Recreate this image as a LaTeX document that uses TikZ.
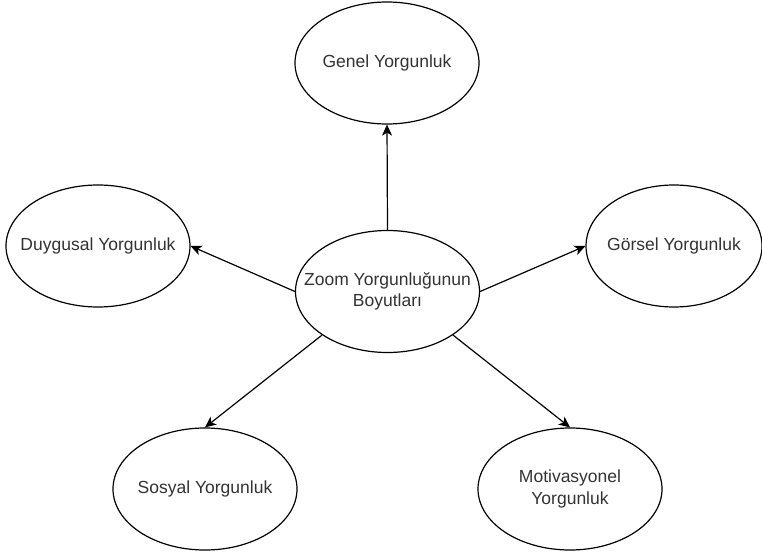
\documentclass[tikz,border=0pt]{standalone}
\usepackage{fontspec}
\setmainfont{Liberation Sans}
\usetikzlibrary{shapes.geometric,arrows.meta}
\begin{document}
\begin{tikzpicture}[x=1pt,y=-1pt,
  txt/.style={text=black!80, align=center, font=\fontsize{17.5}{21.5}\selectfont, inner sep=0pt},
  ell/.style={draw, ellipse, line width=1.2pt, minimum width=184, minimum height=122, inner sep=0pt, label={[txt]center:{#1}}},
  conn/.style={line width=1.2pt, -{Stealth[length=11pt,width=10pt,inset=3pt]}}]
\useasboundingbox[fill=white] (0,0) rectangle (762,553);
\node[ell={Zoom Yorgunluğunun\\Boyutları}] (c) at (387.5,291.5) {};
\node[ell={Genel Yorgunluk}] (g) at (387,63) {};
\node[ell={Duygusal Yorgunluk}] (d) at (98,246) {};
\node[ell={Görsel Yorgunluk}, minimum width=176] (v) at (674,246) {};
\node[ell={Sosyal Yorgunluk}] (s) at (205,489) {};
\node[ell={Motivasyonel\\Yorgunluk}] (m) at (570,489) {};
\draw[conn] (c.north) -- (g.south);
\draw[conn] (c.west) -- (d.east);
\draw[conn] (c.east) -- (v.west);
\draw[conn] (c.south west) -- (s.north);
\draw[conn] (c.south east) -- (m.north);
\end{tikzpicture}
\end{document}
